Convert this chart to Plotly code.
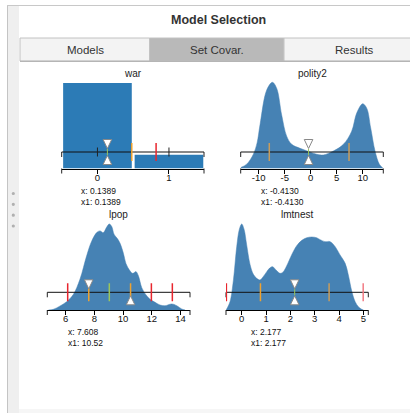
import plotly.graph_objects as go

# ---------------- data ----------------
war_categories = [0, 1]
war_proportions = [0.8611, 0.1389]
war_ticks = [0, 1]

polity2_x = [-13.46, -12.31, -11.03, -10.3, -9.74, -8.46, -7.37, -6.54, -5.58, -4.62, -3.65,
             -2.05, -0.32, 1.15, 2.44, 4.36, 6.28, 7.88, 8.85, 10.0, 10.77, 11.54, 12.37, 13.2, 13.96]
polity2_density = [0.011, 0.05, 0.165, 0.3, 0.51, 0.91, 1.0, 0.93, 0.62, 0.375, 0.28,
                   0.234, 0.195, 0.165, 0.157, 0.203, 0.28, 0.433, 0.644, 0.751, 0.70, 0.47, 0.203, 0.05, 0.0]
polity2_ticks = [-10, -5, 0, 5, 10]

lpop_x = [4.8, 5.14, 5.61, 6.07, 6.53, 7.0, 7.46, 7.81, 8.16, 8.39, 8.62, 8.86, 9.04, 9.21, 9.37,
          9.60, 9.79, 10.02, 10.2, 10.44, 10.67, 10.9, 11.06, 11.3, 11.6, 11.88, 12.23, 12.57,
          12.92, 13.39, 13.74, 14.08, 14.32]
lpop_density = [0.0, 0.008, 0.047, 0.097, 0.18, 0.36, 0.63, 0.80, 0.90, 0.92, 0.90, 0.965, 1.0, 0.97, 0.88,
                0.83, 0.775, 0.66, 0.54, 0.465, 0.426, 0.446, 0.40, 0.26, 0.174, 0.124, 0.089, 0.058,
                0.05, 0.07, 0.05, 0.012, 0.0]
lpop_ticks = [6, 8, 10, 12, 14]

lmtnest_x = [-0.64, -0.616, -0.48, -0.34, -0.205, -0.096, 0.0, 0.096, 0.205, 0.342, 0.479, 0.616, 0.753,
             0.89, 1.03, 1.16, 1.27, 1.41, 1.58, 1.71, 1.85, 2.05, 2.26, 2.47, 2.67, 2.88, 3.08,
             3.22, 3.42, 3.63, 3.84, 4.04, 4.25, 4.38, 4.52, 4.66, 4.79, 4.93, 5.0]
lmtnest_density = [0.0, 0.012, 0.097, 0.35, 0.736, 0.94, 1.0, 0.94, 0.756, 0.53, 0.415, 0.368, 0.35,
                   0.39, 0.446, 0.49, 0.504, 0.465, 0.426, 0.446, 0.515, 0.64, 0.748, 0.81, 0.84, 0.849, 0.84,
                   0.818, 0.795, 0.795, 0.736, 0.64, 0.543, 0.407, 0.22, 0.097, 0.039, 0.008, 0.0]
lmtnest_ticks = [0, 1, 2, 3, 4, 5]

# set-covariate values (x and x1) for each variable
war_x, war_x1 = 0.1389, 0.1389
polity2_xv, polity2_x1 = -0.4130, -0.4130
lpop_xv, lpop_x1 = 7.608, 10.52
lmtnest_xv, lmtnest_x1 = 2.177, 2.177

# summary marks on the slider line
war_black = [0, 1]
war_orange = [0.48]
war_red = [0.82]
polity2_orange = [-7.96, 7.37]
lpop_red = [6.14, 11.97, 13.43]
lpop_orange = [7.608, 10.52]
lpop_green = [9.04]
lmtnest_red = [-0.63, 4.99]
lmtnest_orange = [0.77, 3.59]
lmtnest_green = [2.177]

panel_names = ["war", "polity2", "lpop", "lmtnest"]

# ---------------- layout helpers ----------------
W, H = 410, 413
FONT = "Liberation Sans, Arial, Helvetica, sans-serif"


def fx(p):
    return p / W


def fy(p):
    return 1 - p / H


# pixel geometry of each panel
geom = {
    "war":     dict(left=61.7, right=204.0, base=168.5, slider=152.0, top=80.0, rng=[-0.5, 1.49],
                    ymax=0.8611 * (168.5 - 80) / (168.5 - 83), title_y=73, text_x=79.3, text_y=196.5),
    "polity2": dict(left=240.7, right=383.3, base=168.5, slider=152.0, top=80.0, rng=[-13.46, 13.96],
                    ymax=88.5 / 86.2, title_y=73, text_x=259.3, text_y=196.5),
    "lpop":    dict(left=47.3, right=190.0, base=310.0, slider=292.3, top=220.0, rng=[4.72, 14.66],
                    ymax=90 / 86, title_y=214.3, text_x=66.0, text_y=337.3),
    "lmtnest": dict(left=226.0, right=368.3, base=310.0, slider=292.3, top=220.0, rng=[-0.645, 5.2],
                    ymax=90 / 86, title_y=214.3, text_x=249.3, text_y=337.3),
}
ticks = {"war": war_ticks, "polity2": polity2_ticks, "lpop": lpop_ticks, "lmtnest": lmtnest_ticks}

RED = "#e8262e"
ORANGE = "#f0a22e"
TAN = "#c99c5a"
GREEN = "#9cc65a"
BAR_BLUE = "#2c7bb6"
DENS_BLUE = "#4682b4"

fig = go.Figure()
layout = dict(width=W, height=H, autosize=False, margin=dict(l=0, r=0, t=0, b=0),
              paper_bgcolor="white", plot_bgcolor="rgba(0,0,0,0)", showlegend=False,
              font=dict(family=FONT, color="#222", size=10))
shapes = []
annotations = []

for i, name in enumerate(panel_names, start=1):
    g = geom[name]
    sx = "" if i == 1 else str(i)
    layout["xaxis" + sx] = dict(domain=[fx(g["left"]), fx(g["right"])], range=g["rng"], anchor="y" + sx,
                                showline=True, linecolor="black", linewidth=1, ticks="outside",
                                ticklen=4, tickcolor="black", tickwidth=1, tickvals=ticks[name],
                                ticktext=[str(v) for v in ticks[name]],
                                ticklabelstandoff=-4,
                                tickfont=dict(size=9.5, color="#111", family=FONT), showgrid=False,
                                zeroline=False, fixedrange=True)
    layout["yaxis" + sx] = dict(domain=[fy(g["base"]), fy(g["top"])], range=[0, g["ymax"]],
                                anchor="x" + sx, visible=False, fixedrange=True)
    # end ticks of axis and slider line
    for d in (0, 1):
        for yy in (g["base"], g["slider"]):
            shapes.append(dict(type="line", xref="x%s domain" % sx, x0=d, x1=d, yref="paper",
                               y0=fy(yy), y1=fy(yy + 5), line=dict(color="#222", width=1)))
    # slider line
    shapes.append(dict(type="line", xref="x%s domain" % sx, x0=0, x1=1, yref="paper",
                       y0=fy(g["slider"]), y1=fy(g["slider"]), line=dict(color="#111", width=1)))
    # title
    annotations.append(dict(text=name, xref="paper", yref="paper", x=(fx(g["left"]) + fx(g["right"])) / 2,
                            y=fy(g["title_y"]), xanchor="center", yanchor="middle", showarrow=False,
                            font=dict(size=10, color="#222", family=FONT)))

# traces
fig.add_trace(go.Bar(x=war_categories, y=war_proportions, width=0.96, marker=dict(color=BAR_BLUE, line=dict(width=0)),
                     xaxis="x", yaxis="y", hoverinfo="skip"))
for sx, xs, ys in (("2", polity2_x, polity2_density), ("3", lpop_x, lpop_density), ("4", lmtnest_x, lmtnest_density)):
    fig.add_trace(go.Scatter(x=xs, y=ys, mode="lines", line=dict(color=DENS_BLUE, width=0.5, shape="spline", smoothing=1.0),
                             fill="tozeroy", fillcolor=DENS_BLUE, xaxis="x" + sx, yaxis="y" + sx, hoverinfo="skip"))


def tick_marks(sx, slider, vals, color, half=9, width=1.5):
    for v in vals:
        shapes.append(dict(type="line", xref="x" + sx, x0=v, x1=v, yref="paper",
                           y0=fy(slider - half), y1=fy(slider + half), line=dict(color=color, width=width)))


def triangles(sx, slider, xv, x1v):
    # upper triangle (pointing down) marks x, lower one (pointing up) marks x1
    shapes.append(dict(type="path", xref="x" + sx, xsizemode="pixel", xanchor=xv, yref="paper",
                       ysizemode="pixel", yanchor=fy(slider), path="M -4.3,12.5 L 4.3,12.5 L 0,3.5 Z",
                       fillcolor="white", line=dict(color="#888", width=1)))
    shapes.append(dict(type="path", xref="x" + sx, xsizemode="pixel", xanchor=x1v, yref="paper",
                       ysizemode="pixel", yanchor=fy(slider), path="M -4.3,-12.5 L 4.3,-12.5 L 0,-3.5 Z",
                       fillcolor="white", line=dict(color="#888", width=1)))


s = geom["war"]["slider"]
tick_marks("", s, war_black, "#222", half=4.5, width=1)
tick_marks("", s, war_orange, ORANGE)
tick_marks("", s, war_red, RED)
tick_marks("", s, [war_x], GREEN, half=3, width=1)
triangles("", s, war_x, war_x1)

s = geom["polity2"]["slider"]
tick_marks("2", s, polity2_orange, TAN)
tick_marks("2", s, [polity2_xv], GREEN, half=3, width=1)
triangles("2", s, polity2_xv, polity2_x1)

s = geom["lpop"]["slider"]
tick_marks("3", s, lpop_red, RED)
tick_marks("3", s, lpop_orange, ORANGE)
tick_marks("3", s, lpop_green, GREEN)
triangles("3", s, lpop_xv, lpop_x1)

s = geom["lmtnest"]["slider"]
tick_marks("4", s, lmtnest_red[:1], RED)
tick_marks("4", s, lmtnest_red[1:], "#f27b84")
tick_marks("4", s, lmtnest_orange[:1], ORANGE)
tick_marks("4", s, lmtnest_orange[1:], TAN)
tick_marks("4", s, lmtnest_green, GREEN, half=3, width=1)
triangles("4", s, lmtnest_xv, lmtnest_x1)

# x / x1 readouts (two lines in one text block)
for name, xv, x1v in (("war", war_x, war_x1), ("polity2", polity2_xv, polity2_x1),
                      ("lpop", lpop_xv, lpop_x1), ("lmtnest", lmtnest_xv, lmtnest_x1)):
    g = geom[name]
    txt = "x: %s<br>x1: %s" % (format(xv, "#.4g"), format(x1v, "#.4g"))
    annotations.append(dict(text=txt, xref="paper", yref="paper", align="left",
                            x=fx(g["text_x"]), y=fy(g["text_y"]), xanchor="left", yanchor="middle",
                            showarrow=False, font=dict(size=8.5, color="#111", family=FONT)))

# ---------------- surrounding UI chrome ----------------
chrome = []
# left strip and border
chrome.append(dict(type="rect", xref="paper", yref="paper", x0=fx(7), x1=fx(19), y0=0, y1=fy(5),
                   fillcolor="#efefef", line=dict(width=0), layer="below"))
chrome.append(dict(type="line", xref="paper", yref="paper", x0=fx(7.5), x1=fx(7.5), y0=0, y1=fy(5),
                   line=dict(color="#c4c4c4", width=1), layer="below"))
# top border
chrome.append(dict(type="line", xref="paper", yref="paper", x0=fx(7), x1=1, y0=fy(5.5), y1=fy(5.5),
                   line=dict(color="#c8c8c8", width=1), layer="below"))
# bottom strip
chrome.append(dict(type="rect", xref="paper", yref="paper", x0=fx(19), x1=1, y0=0, y1=fy(409),
                   fillcolor="#f6f6f6", line=dict(width=0), layer="below"))
# drag dots
for yy in (193.5, 204.3, 215.2, 226.0):
    chrome.append(dict(type="circle", xref="paper", yref="paper", xsizemode="pixel", ysizemode="pixel",
                       xanchor=fx(13.3), yanchor=fy(yy), x0=-1.6, x1=1.6, y0=-1.6, y1=1.6,
                       fillcolor="#b0b0b0", line=dict(width=0), layer="below"))
# tab bar
tabs = [("Models", 20, 149.5, "#f3f3f3", 85), ("Set Covar.", 149.5, 284, "#b9b9b9", 216.7),
        ("Results", 284, 412, "#f3f3f3", 354)]
for label, a, b, col, cx in tabs:
    chrome.append(dict(type="rect", xref="paper", yref="paper", x0=fx(a), x1=fx(b), y0=fy(61), y1=fy(38),
                       fillcolor=col, line=dict(color="#c2c2c2", width=1), layer="below"))
    annotations.append(dict(text=label, xref="paper", yref="paper", x=fx(cx),
                            y=fy(49.8), xanchor="center", yanchor="middle", showarrow=False,
                            font=dict(size=11.5, color="#333", family=FONT)))
chrome.append(dict(type="line", xref="paper", yref="paper", x0=fx(20), x1=1, y0=fy(61.3), y1=fy(61.3),
                   line=dict(color="#aaaaaa", width=1), layer="below"))
annotations.append(dict(text="Model Selection", xref="paper", yref="paper", x=fx(218), y=fy(19.5),
                        xanchor="center", yanchor="middle", showarrow=False,
                        font=dict(size=12.5, color="#333", family=FONT, weight="bold")))

layout["shapes"] = chrome + shapes
layout["annotations"] = annotations
fig.update_layout(**layout)
fig.write_html("out.html", config={"displayModeBar": False, "staticPlot": True},
               post_script="document.body.style.margin='0';document.body.style.overflow='hidden';")
